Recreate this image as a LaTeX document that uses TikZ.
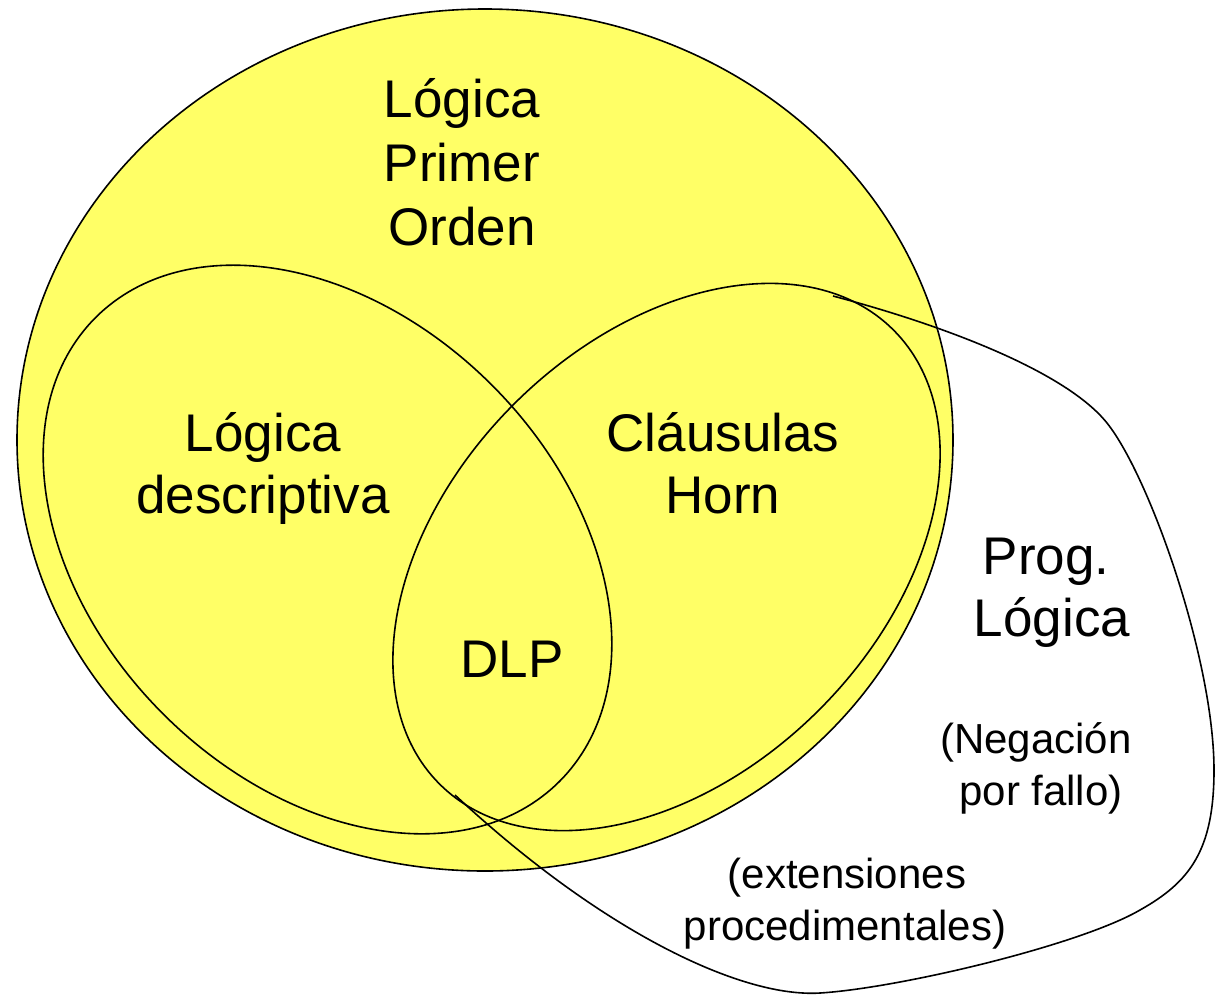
\documentclass[tikz,border=0pt]{standalone}
\usepackage{fontspec}
\setmainfont{Liberation Sans}
\definecolor{venny}{HTML}{FFFF66}
\begin{document}
\begin{tikzpicture}[x=1pt,y=-1pt,
  outline/.style={draw=black,line width=1.6pt},
  bigtxt/.style={anchor=base,inner sep=0pt,font=\fontsize{53}{64}\selectfont},
  smalltxt/.style={anchor=base,inner sep=0pt,font=\fontsize{42}{52}\selectfont}]
\useasboundingbox (0,0) rectangle (1226,994);
% first-order logic
\fill[venny] (485,440) ellipse [x radius=468pt, y radius=431pt];
\draw[outline] (485,440) ellipse [x radius=468pt, y radius=431pt];
% description logic
\draw[outline,rotate around={-45:(327.5,549.5)}] (327.5,549.5) ellipse [x radius=328pt, y radius=232.5pt];
% Horn clauses
\draw[outline,rotate around={45:(666.5,557)}] (666.5,557) ellipse [x radius=321pt, y radius=216pt];
% logic programming
\coordinate (lpA) at (833,296);
\coordinate (lpB) at (455,795);
\draw[outline] (lpA) .. controls (950,327) and (1067,373) .. (1107,423)
  .. controls (1150,477) and (1214,660) .. (1214,770)
  .. controls (1214,850) and (1190,882) .. (1140,910)
  .. controls (1080,945) and (900,988) .. (820,993)
  .. controls (740,998) and (600,930) .. (lpB);
% texts
\node[bigtxt] (t1) at (462,117) {Lógica};
\node[bigtxt] (t2) at (462,181) {Primer};
\node[bigtxt] (t3) at (462,245) {Orden};
\node[bigtxt] (d1) at (263,451) {Lógica};
\node[bigtxt] (d2) at (263,513) {descriptiva};
\node[bigtxt] (h1) at (723,451) {Cláusulas};
\node[bigtxt] (h2) at (723,513) {Horn};
\node[bigtxt] (dlp) at (512,677) {DLP};
\node[bigtxt] (p1) at (1046,574) {Prog.};
\node[bigtxt] (p2) at (1052,636) {Lógica};
\node[smalltxt] (n1) at (1036,753) {(Negación};
\node[smalltxt] (n2) at (1041,805) {por fallo)};
\node[smalltxt] (e1) at (847,888) {(extensiones};
\node[smalltxt] (e2) at (845,940) {procedimentales)};
\end{tikzpicture}
\end{document}
